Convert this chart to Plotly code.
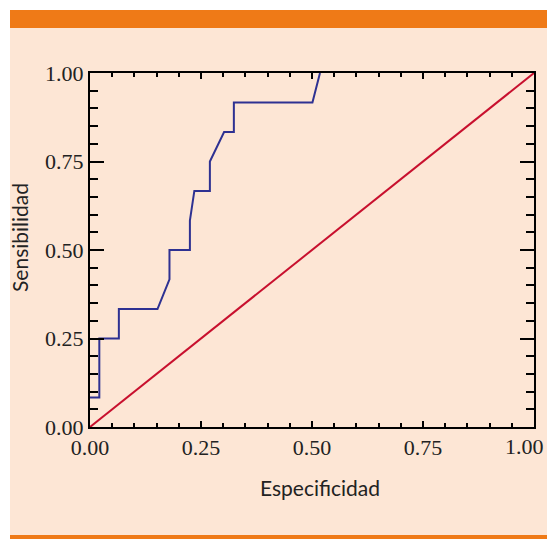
import plotly.graph_objects as go

# ROC curve (x: 1 - especificidad, y: sensibilidad)
roc_x = [0.0, 0.021, 0.021, 0.065, 0.065, 0.152, 0.179, 0.179, 0.225, 0.225,
         0.235, 0.270, 0.270, 0.302, 0.324, 0.324, 0.501, 0.518]
roc_y = [0.083, 0.083, 0.25, 0.25, 0.333, 0.333, 0.417, 0.5, 0.5, 0.583,
         0.667, 0.667, 0.75, 0.833, 0.833, 0.917, 0.917, 1.0]
ref_x = [0.0, 1.0]
ref_y = [0.0, 1.0]
tick_vals = [0.0, 0.25, 0.5, 0.75, 1.0]
tick_text = ["0.00", "0.25", "0.50", "0.75", "1.00"]

PEACH = "#FDE6D5"
ORANGE = "#EF7A17"
W, H = 547, 539
L, R, T, B = 90, 534, 73, 427  # plot area in pixels


def px(x):
    return (x - L) / (R - L)


def py(y):
    return (B - y) / (B - T)


fig = go.Figure()
fig.add_trace(go.Scatter(x=ref_x, y=ref_y, mode="lines",
                         line=dict(color="#C8102E", width=2), showlegend=False))
fig.add_trace(go.Scatter(x=roc_x, y=roc_y, mode="lines",
                         line=dict(color="#2E3192", width=2), showlegend=False))

shapes = [
    dict(type="rect", xref="paper", yref="paper", x0=px(10), x1=px(W + 5),
         y0=py(535), y1=py(28), fillcolor=PEACH, line_width=0, layer="below"),
    dict(type="rect", xref="paper", yref="paper", x0=px(10), x1=px(W + 5),
         y0=py(28), y1=py(10), fillcolor=ORANGE, line_width=0, layer="below"),
    dict(type="rect", xref="paper", yref="paper", x0=px(10), x1=px(W + 5),
         y0=py(H + 5), y1=py(535), fillcolor=ORANGE, line_width=0, layer="below"),
]

TICKFONT = dict(family="Liberation Serif", size=22, color="#222")

axis_common = dict(
    range=[0, 1], tickvals=tick_vals,
    ticks="inside", showline=True, linecolor="black", linewidth=2,
    mirror="allticks", showgrid=False, zeroline=False, tickcolor="black",
    tickwidth=1.5, ticklabeloverflow="allow", automargin=False,
    tickfont=TICKFONT,
)

# last x label is drawn as an annotation so it stays inside the picture
fig.update_xaxes(**axis_common, ticktext=tick_text[:-1] + [""], ticklen=6,
                 minor=dict(dtick=0.05, ticks="inside", ticklen=4, tickcolor="black",
                            tickwidth=1.5, showgrid=False))
fig.update_yaxes(**axis_common, ticktext=tick_text, ticklen=14,
                 minor=dict(dtick=0.05, ticks="inside", ticklen=8, tickcolor="black",
                            tickwidth=1.5, showgrid=False))

fig.update_layout(
    width=W, height=H,
    margin=dict(l=L, r=W - R, t=T, b=H - B, pad=0, autoexpand=False),
    paper_bgcolor="white", plot_bgcolor="rgba(0,0,0,0)",
    shapes=shapes,
    annotations=[
        dict(text=tick_text[-1], xref="x", yref="paper", x=tick_vals[-1], y=py(446),
             xanchor="right", yanchor="middle", xshift=W - R - 1, showarrow=False,
             font=TICKFONT),
        dict(text="Especificidad", xref="paper", yref="paper", x=px(320), y=py(487),
             xanchor="center", yanchor="middle", showarrow=False,
             font=dict(family="Lato", size=21, color="#222")),
        dict(text="Sensibilidad", xref="paper", yref="paper", x=px(19), y=py(238),
             xanchor="center", yanchor="middle", showarrow=False, textangle=-90,
             font=dict(family="Lato", size=21, color="#222")),
    ],
)

fig.write_html("out.html")
